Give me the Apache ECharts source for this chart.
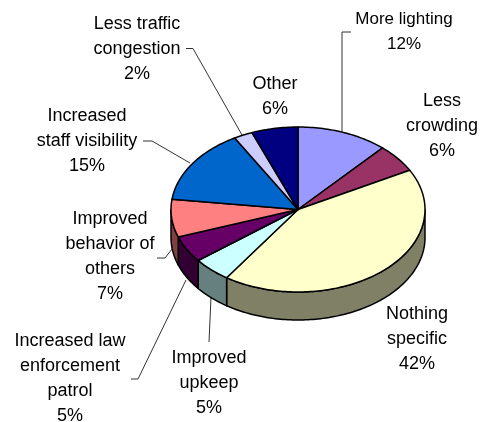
<!DOCTYPE html>
<html>
<head>
<meta charset="utf-8">
<style>html,body{margin:0;padding:0;background:#fff}#c{width:485px;height:422px}</style>
<script src="https://cdn.jsdelivr.net/npm/echarts@6/dist/echarts.min.js"></script>
</head>
<body>
<div id="c"></div>
<script>
// Data, clockwise from 12 o'clock (slice sizes; labels show them rounded)
const sliceNames = ['More lighting','Less crowding','Nothing specific','Improved upkeep','Increased law enforcement patrol','Improved behavior of others','Increased staff visibility','Less traffic congestion','Other'];
const sliceValues = [11.6,5.5,42.4,4.9,5.2,7.4,14.7,2.4,5.9];
const topColors = ['#9999FF','#993366','#FFFFCC','#CCFFFF','#660066','#FF8080','#0066CC','#CCCCFF','#000080'];
const wallColors = ['#4D4D80','#4D1A33','#808066','#668080','#330033','#804040','#003366','#666680','#000040'];

// Label wrapping, index-aligned with the slices
const labelLines = [['More lighting'],['Less','crowding'],['Nothing','specific'],['Improved','upkeep'],['Increased law','enforcement','patrol'],['Improved','behavior of','others'],['Increased','staff visibility'],['Less traffic','congestion'],['Other']];

// Layout only
const pie = {cx:298, cy:209.5, rx:127, ry:82.5, depth:28};
const labelPos = [[404,19],[442,101],[417,314],[209,358],[70,341],[110,219],[87,116],[137,24],[275,84]];
const labelSize = [17,18,18,18,18,18,18,18,18];
const leaders = [
  [[351,32],[342,32],[342,132]],
  null,
  null,
  [[209,342],[211,297]],
  [[131,379],[138,379],[186,280]],
  [[157,258],[165,258],[172,249]],
  [[143,141],[152,141],[190,163]],
  [[186,48.5],[193,48.5],[242,135]],
  null
];
const lineH = 25;

const total = sliceValues.reduce((a,b)=>a+b,0);
const ends = []; sliceValues.reduce((a,v,i)=>(ends[i]=a+v),0);
const angleOf = v => v/total*Math.PI*2;
const pt = (a,dy) => [pie.cx+pie.rx*Math.sin(a), pie.cy-pie.ry*Math.cos(a)+(dy||0)];
function arc(a0,a1,dy){
  const n=Math.max(2,Math.ceil(Math.abs(a1-a0)/0.02)), out=[];
  for(let i=0;i<=n;i++) out.push(pt(a0+(a1-a0)*i/n,dy));
  return out;
}
const stroke = {stroke:'#000', lineWidth:1.5, lineJoin:'round'};

function renderTop(params, api){
  const i=params.dataIndex, v=api.value(0), a1=angleOf(ends[i]), a0=a1-angleOf(v);
  return {type:'polygon', shape:{points:[[pie.cx,pie.cy]].concat(arc(a0,a1))},
    style:Object.assign({fill:topColors[i]},stroke)};
}
function renderWall(params, api){
  const i=params.dataIndex, v=api.value(0), a1=angleOf(ends[i]), a0=a1-angleOf(v);
  const lo=Math.max(a0,Math.PI/2), hi=Math.min(a1,Math.PI*1.5);
  if(hi<=lo) return {type:'group',children:[]};
  return {type:'polygon', shape:{points:arc(lo,hi).concat(arc(hi,lo,pie.depth))},
    style:Object.assign({fill:wallColors[i]},stroke)};
}

const graphics = [];
sliceValues.forEach((v,i)=>{
  labelLines[i].concat([Math.round(v)+'%']).forEach((t,k)=>{
    graphics.push({type:'text',silent:true,x:labelPos[i][0],y:labelPos[i][1]+k*lineH,
      style:{text:t,font:labelSize[i]+'px "Liberation Sans", Arial, sans-serif',fill:'#000',align:'center',verticalAlign:'middle'}});
  });
  if(leaders[i]) graphics.push({type:'polyline',silent:true,shape:{points:leaders[i]},
    style:{stroke:'#333',lineWidth:1,fill:null}});
});

const chart = echarts.init(document.getElementById('c'),null,{renderer:'canvas'});
chart.setOption({
  animation:false,
  backgroundColor:'#fff',
  series:[
    {type:'custom',coordinateSystem:'none',silent:true,z:1,renderItem:renderWall,data:sliceValues,encode:{value:0}},
    {type:'custom',coordinateSystem:'none',silent:true,z:2,renderItem:renderTop,data:sliceValues,encode:{value:0}}
  ],
  graphic:graphics
});
</script>
</body>
</html>
